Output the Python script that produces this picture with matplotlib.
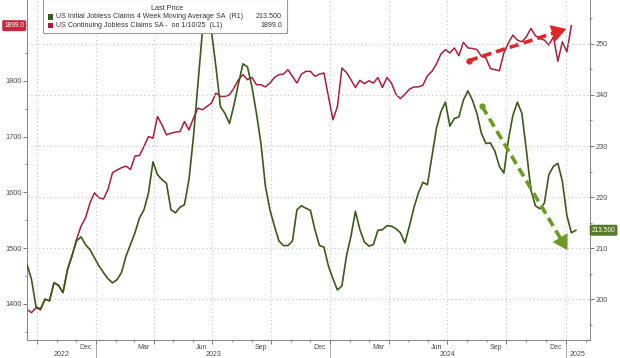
import matplotlib
matplotlib.use("Agg")
import matplotlib.pyplot as plt
import matplotlib.dates as mdates
import matplotlib.transforms as mtransforms
from matplotlib.patches import Rectangle
from matplotlib.ticker import MultipleLocator
import pandas as pd

# weekly series, first week ending 2022-09-16
START = "2022-09-16"

# US Continuing Jobless Claims SA (thousands, left axis)
CONT_CLAIMS = [
    1390, 1384, 1393, 1389, 1408, 1405, 1438, 1433, 1420, 1461,
    1485, 1515, 1539, 1554, 1581, 1599, 1590, 1588, 1605, 1635,
    1640, 1644, 1647, 1641, 1665, 1666, 1682, 1700, 1697, 1736,
    1721, 1703, 1706, 1708, 1709, 1727, 1712, 1733, 1751, 1748,
    1754, 1760, 1778, 1772, 1772, 1775, 1787, 1802, 1811, 1802,
    1806, 1793, 1793, 1789, 1796, 1806, 1811, 1812, 1820, 1808,
    1796, 1812, 1817, 1817, 1808, 1812, 1814, 1772, 1730, 1754,
    1823, 1815, 1802, 1788, 1801, 1795, 1800, 1796, 1806, 1788,
    1806, 1796, 1776, 1768, 1776, 1785, 1789, 1789, 1792, 1809,
    1817, 1830, 1848, 1856, 1850, 1859, 1845, 1869, 1859, 1858,
    1856, 1844, 1841, 1822, 1820, 1818, 1850, 1868, 1882, 1873,
    1870, 1879, 1894, 1881, 1876, 1873, 1864, 1879, 1835, 1870,
    1852, 1899.0,
]

# US Initial Jobless Claims 4 Week Moving Average SA (thousands, right axis)
INIT_4WMA = [
    206.8, 203.9, 198.5, 198.1, 200.0, 199.7, 203.2, 202.7, 201.3, 205.8,
    208.6, 211.4, 212.2, 210.7, 209.7, 208.1, 206.5, 205.2, 204.0, 203.2,
    203.8, 205.2, 208.4, 210.7, 213.0, 215.9, 217.5, 220.8, 226.9, 224.4,
    223.4, 222.7, 217.5, 216.9, 218.0, 218.5, 223.4, 231.8, 242.2, 252.6,
    256.0, 252.5, 245.5, 237.7, 236.4, 234.4, 238.0, 242.2, 246.1, 245.5,
    241.6, 236.4, 230.5, 222.1, 217.5, 214.3, 211.4, 210.5, 210.5, 211.4,
    217.5, 218.3, 217.8, 217.4, 213.6, 210.5, 210.2, 206.5, 204.0, 201.8,
    202.6, 208.4, 212.3, 217.2, 213.6, 211.2, 210.4, 210.7, 213.5, 213.6,
    214.4, 214.3, 213.8, 213.0, 211.0, 214.3, 217.9, 220.8, 222.9, 222.4,
    227.9, 233.4, 236.7, 238.6, 233.9, 235.4, 235.7, 239.0, 240.8, 239.0,
    236.4, 232.5, 230.5, 230.6, 229.0, 226.0, 224.7, 231.2, 236.0, 238.6,
    236.4, 229.2, 221.4, 218.3, 217.7, 218.8, 224.4, 226.0, 226.6, 223.1,
    216.4, 213.0, 213.5,
]

# hand-drawn trend arrows
RED_ARROW_DATES = ["2024-08-03", "2025-01-02"]
RED_ARROW_VALUES = [1836, 1893]
GREEN_ARROW_DATES = ["2024-08-24", "2025-01-04"]
GREEN_ARROW_VALUES = [237.8, 209.6]

MONTH_LABEL_DATES = ["2022-12-16", "2023-03-16", "2023-06-15", "2023-09-15",
                     "2023-12-16", "2024-03-16", "2024-06-15", "2024-09-15",
                     "2024-12-16"]
MONTH_LABELS = ["Dec", "Mar", "Jun", "Sep", "Dec", "Mar", "Jun", "Sep", "Dec"]
YEAR_STARTS = ["2023-01-01", "2024-01-01", "2025-01-01"]
YEARS = ["2022", "2023", "2024", "2025"]

LEGEND_NAMES = ["US Initial Jobless Claims 4 Week Moving Average SA  (R1)",
                "US Continuing Jobless Claims SA -  on 1/10/25  (L1)"]
LEGEND_VALUES = ["213.500", "1899.0"]

RED = "#a51f3d"
GREEN = "#3c591c"
RED_ARROW = "#e2232a"
GREEN_ARROW = "#6c9a24"
GRID = "#c4c4c4"
TXT = "#4a4a4a"

plt.rcParams["font.family"] = ["Liberation Sans", "DejaVu Sans"]

cont_dates = pd.date_range(START, periods=len(CONT_CLAIMS), freq="7D")
init_dates = pd.date_range(START, periods=len(INIT_4WMA), freq="7D")

fig = plt.figure(figsize=(6.2, 3.58), dpi=100, facecolor="white")
ax = fig.add_axes([27 / 620, 18 / 358, 563 / 620, 340 / 358])
ax2 = ax.twinx()

x0 = mdates.datestr2num("2022-09-16")
x1 = mdates.datestr2num("2025-02-08")
ax.set_xlim(x0, x1)
ax.set_ylim(1335, 1945)
ax2.set_ylim(192.0, 258.6)

ax.plot(cont_dates, CONT_CLAIMS, color=RED, lw=1.1, zorder=3)
ax2.plot(init_dates, INIT_4WMA, color=GREEN, lw=1.2, zorder=3)


def trend_arrow(a, dates, values, color):
    xs = [mdates.datestr2num(d) for d in dates]
    # shaft stops a bit short of the tip, head covers the rest
    f = 0.08
    bx = xs[1] - f * (xs[1] - xs[0])
    by = values[1] - f * (values[1] - values[0])
    a.plot([xs[0], bx], [values[0], by], color=color, lw=2.6,
           ls=(0, (2.6, 1.4)), dash_capstyle="butt", zorder=6)
    a.plot(xs[0], values[0], "o", color=color, ms=3.5, zorder=6)
    a.annotate("", xy=(xs[1], values[1]), xytext=(bx, by),
               arrowprops=dict(arrowstyle="-|>,head_length=0.75,head_width=0.45",
                               color=color, lw=0, mutation_scale=14,
                               shrinkA=0, shrinkB=0),
               zorder=7)


trend_arrow(ax, RED_ARROW_DATES, RED_ARROW_VALUES, RED_ARROW)
trend_arrow(ax2, GREEN_ARROW_DATES, GREEN_ARROW_VALUES, GREEN_ARROW)

# x axis: quarter gridlines, monthly minor ticks, labels as text
ax.xaxis.set_major_locator(mdates.MonthLocator(bymonth=[1, 4, 7, 10]))
ax.xaxis.set_minor_locator(mdates.MonthLocator())
ax.xaxis.set_major_formatter(plt.NullFormatter())
ax.grid(axis="x", which="major", color=GRID, lw=0.8, ls=(0, (1, 2.5)))

ax.yaxis.set_major_locator(MultipleLocator(100))
ax.yaxis.set_minor_locator(MultipleLocator(50))
ax2.yaxis.set_major_locator(MultipleLocator(10))
ax2.yaxis.set_minor_locator(MultipleLocator(5))
ax2.grid(axis="y", which="major", color=GRID, lw=0.8, ls=(0, (1, 2.5)))
ax2.set_axisbelow(True)
ax.set_yticks([1400, 1500, 1600, 1700, 1800])
ax.set_yticklabels(["1400", "1500", "1600", "1700", "1800"])

for a in (ax, ax2):
    a.tick_params(which="major", length=3, width=0.7, color="#777",
                  labelsize=5.3, labelcolor=TXT, pad=1)
    a.tick_params(which="minor", length=1.6, width=0.6, color="#777")
    for s in a.spines.values():
        s.set_color("#888")
        s.set_linewidth(0.7)
    a.spines["top"].set_visible(False)

xt = mtransforms.blended_transform_factory(ax.transData, ax.transAxes)
for d, lab in zip(MONTH_LABEL_DATES, MONTH_LABELS):
    ax.text(mdates.datestr2num(d), -0.022, lab, transform=xt, ha="center",
            va="center", fontsize=5, color=TXT)

bounds = [x0] + [mdates.datestr2num(d) for d in YEAR_STARTS] + [x1]
for i, yr in enumerate(YEARS):
    ax.text((bounds[i] + bounds[i + 1]) / 2, -0.043, yr, transform=xt,
            ha="center", va="center", fontsize=5, color=TXT)
for d in YEAR_STARTS:
    xd = mdates.datestr2num(d)
    ax.plot([xd, xd], [-0.012, -0.06], transform=xt, color="#999", lw=0.6,
            clip_on=False)

# last value tags on the axes
yl = mtransforms.blended_transform_factory(ax.transAxes, ax.transData)
ax.text(-0.005, CONT_CLAIMS[-1], "%.1f" % CONT_CLAIMS[-1], transform=yl,
        ha="right", va="center", fontsize=4.8, color="white",
        bbox=dict(boxstyle="round,pad=0.3,rounding_size=0.25", fc="#c8283d",
                  ec="none"), clip_on=False, zorder=10)
yr2 = mtransforms.blended_transform_factory(ax2.transAxes, ax2.transData)
ax2.text(1.003, INIT_4WMA[-1], "%.3f" % INIT_4WMA[-1], transform=yr2,
         ha="left", va="center", fontsize=4.8, color="white",
         bbox=dict(boxstyle="round,pad=0.3,rounding_size=0.25", fc="#577a28",
                   ec="none"), clip_on=False, zorder=10)

# legend box in the top-left corner
W, H = 620, 358
fig.patches.append(Rectangle((43 / W, 1 - 33 / H), 244 / W, 34 / H,
                             transform=fig.transFigure, fc="white",
                             ec="#9a9a9a", lw=0.8, zorder=20))
fig.text(167 / W, 1 - 9 / H, "Last Price", ha="center", va="center",
         fontsize=5.2, color="#333", zorder=21)
for k, (name, val, col) in enumerate(zip(LEGEND_NAMES, LEGEND_VALUES,
                                         [GREEN, RED])):
    yy = 1 - (17 + 8.3 * k) / H
    fig.patches.append(Rectangle((48 / W, yy - 2.5 / H), 5 / W, 5 / H,
                                 transform=fig.transFigure, fc=col,
                                 ec="none", zorder=21))
    fig.text(56 / W, yy, name, ha="left", va="center", fontsize=5.1,
             color="#333", zorder=21)
    fig.text(282 / W, yy, val, ha="right", va="center", fontsize=5.1,
             color="#333", zorder=21)

fig.savefig("out.png", dpi=100, facecolor="white")
